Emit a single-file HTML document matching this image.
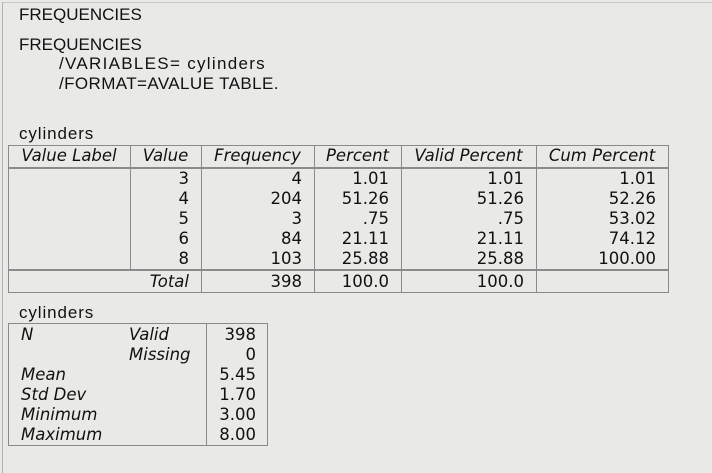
<!DOCTYPE html>
<html><head><meta charset="utf-8"><style>
body{margin:0;width:712px;height:466px;background:#e9e9e7;position:relative;overflow:hidden;font-family:"DejaVu Sans",sans-serif;color:#111}
.frame{position:absolute;left:2px;top:2px;width:720px;height:470px;border-left:1px solid #b0b0b0;border-top:1px solid #c8c8c8}
.t{position:absolute;font-family:"Liberation Sans",sans-serif;font-size:17px;line-height:20px;white-space:pre}
.c{position:absolute;font-size:16.5px;line-height:20px;white-space:nowrap}
.r{text-align:right}
.i{font-style:italic}
.hl{position:absolute;background:#8a8a8a;height:1px}
.vl{position:absolute;background:#8a8a8a;width:1px}
</style></head><body>
<div class="frame"></div>
<div class="t" style="left:19px;top:5px">FREQUENCIES</div>
<div class="t" style="left:19px;top:35px">FREQUENCIES</div>
<div class="t" style="left:59px;top:54px;letter-spacing:1.3px">/VARIABLES= cylinders</div>
<div class="t" style="left:59px;top:74px;letter-spacing:0.4px">/FORMAT=AVALUE TABLE.</div>

<div class="t" style="left:19px;top:124px;letter-spacing:0.9px">cylinders</div>
<div>
<div class="hl" style="left:8px;top:145px;width:661px"></div>
<div class="hl" style="left:8px;top:167px;width:661px;height:2px"></div>
<div class="hl" style="left:8px;top:269px;width:661px;height:2px"></div>
<div class="hl" style="left:8px;top:292px;width:661px"></div>
<div class="vl" style="left:8px;top:145px;height:148px"></div>
<div class="vl" style="left:130px;top:145px;height:125px"></div>
<div class="vl" style="left:201px;top:145px;height:148px"></div>
<div class="vl" style="left:314px;top:145px;height:148px"></div>
<div class="vl" style="left:401px;top:145px;height:148px"></div>
<div class="vl" style="left:536px;top:145px;height:148px"></div>
<div class="vl" style="left:668px;top:145px;height:148px"></div>

<div class="c i" style="left:8px;width:122px;top:146px;text-align:center">Value Label</div>
<div class="c i" style="left:130px;width:71px;top:146px;text-align:center">Value</div>
<div class="c i" style="left:201px;width:113px;top:146px;text-align:center">Frequency</div>
<div class="c i" style="left:314px;width:87px;top:146px;text-align:center">Percent</div>
<div class="c i" style="left:401px;width:135px;top:146px;text-align:center">Valid Percent</div>
<div class="c i" style="left:536px;width:132px;top:146px;text-align:center">Cum Percent</div>

<div class="c r" style="right:523px;top:169px">3<br>4<br>5<br>6<br>8</div>
<div class="c r" style="right:410px;top:169px">4<br>204<br>3<br>84<br>103</div>
<div class="c r" style="right:323px;top:169px">1.01<br>51.26<br>.75<br>21.11<br>25.88</div>
<div class="c r" style="right:188px;top:169px">1.01<br>51.26<br>.75<br>21.11<br>25.88</div>
<div class="c r" style="right:56px;top:169px">1.01<br>52.26<br>53.02<br>74.12<br>100.00</div>

<div class="c r i" style="right:523px;top:272px">Total</div>
<div class="c r" style="right:410px;top:272px">398</div>
<div class="c r" style="right:323px;top:272px">100.0</div>
<div class="c r" style="right:188px;top:272px">100.0</div>
</div>

<div class="t" style="left:19px;top:303px;letter-spacing:0.9px">cylinders</div>
<div>
<div class="hl" style="left:8px;top:323px;width:260px"></div>
<div class="hl" style="left:8px;top:445px;width:260px"></div>
<div class="vl" style="left:8px;top:323px;height:123px"></div>
<div class="vl" style="left:206px;top:323px;height:123px"></div>
<div class="vl" style="left:267px;top:323px;height:123px"></div>
<div class="c i" style="left:21px;top:325px">N<br><br>Mean<br>Std Dev<br>Minimum<br>Maximum</div>
<div class="c i" style="left:129px;top:325px">Valid<br>Missing</div>
<div class="c r" style="right:456px;top:325px">398<br>0<br>5.45<br>1.70<br>3.00<br>8.00</div>
</div>
</body></html>
